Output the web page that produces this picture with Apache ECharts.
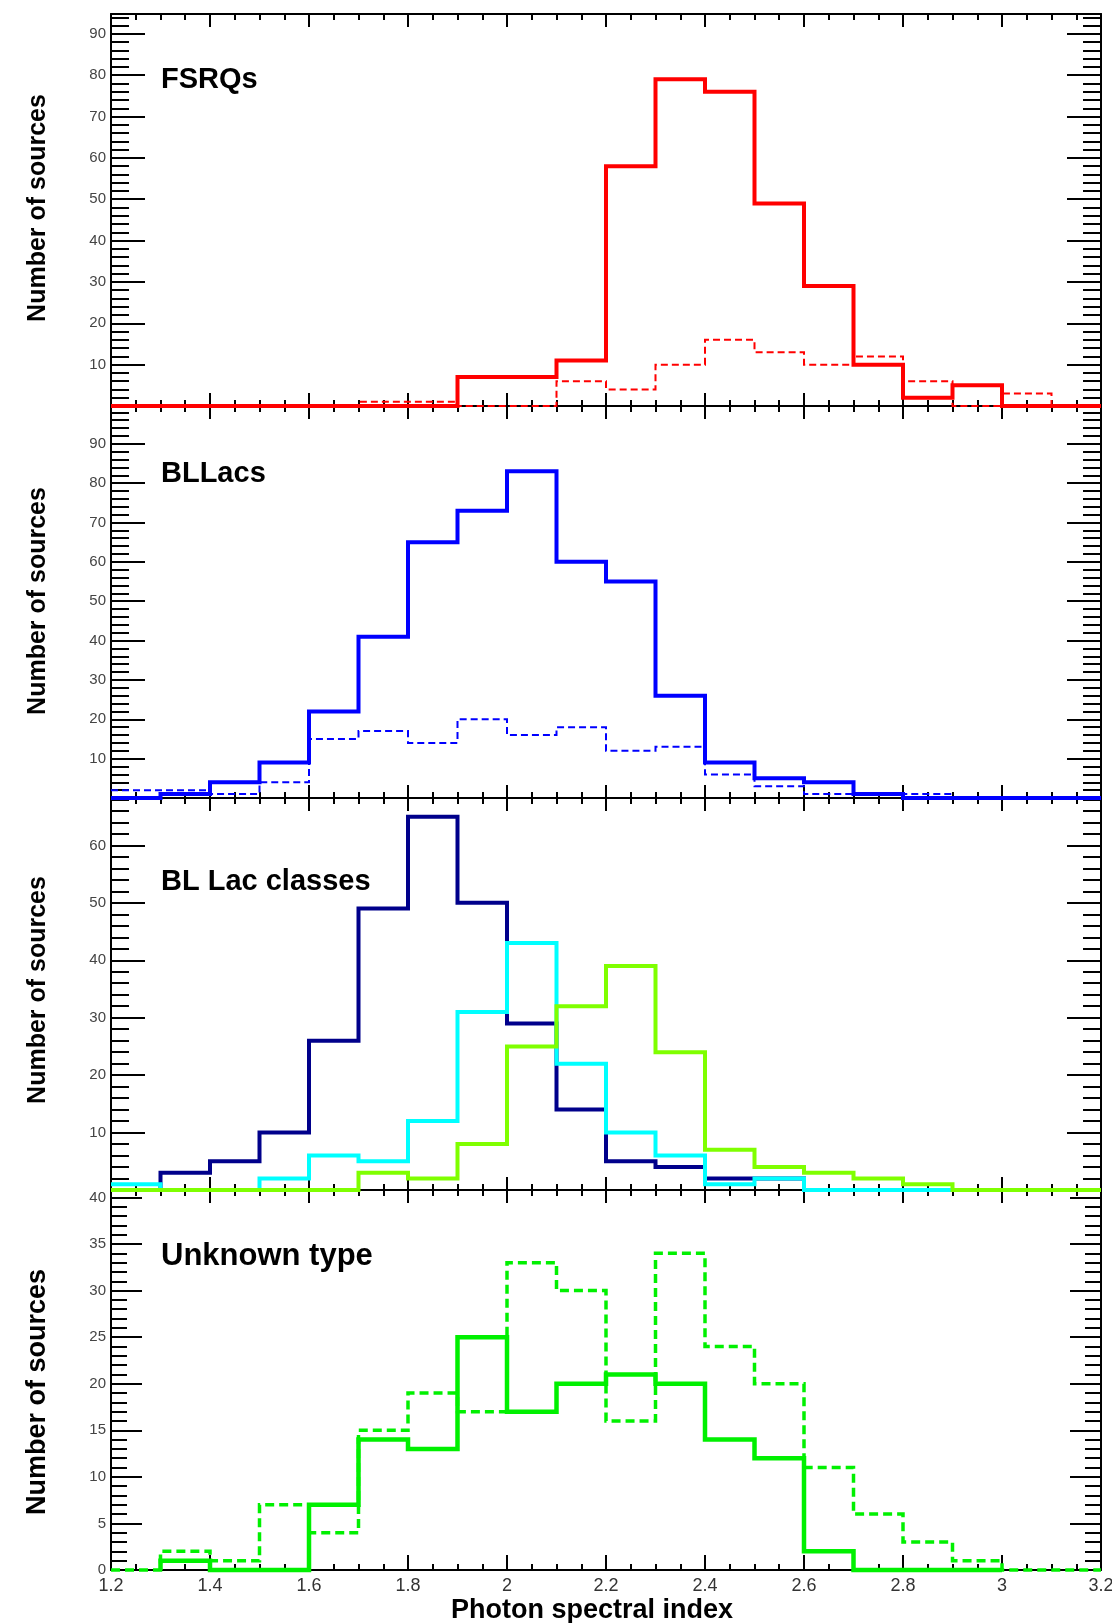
<!DOCTYPE html>
<html>
<head>
<meta charset="utf-8">
<script src="https://cdn.jsdelivr.net/npm/echarts@6/dist/echarts.min.js"></script>
<style>
html,body{margin:0;padding:0;background:#fff;}
#c{width:1112px;height:1623px;}
</style>
</head>
<body>
<div id="c"></div>
<script>
// ---------------- DATA ----------------
const binEdges = [1.2,1.3,1.4,1.5,1.6,1.7,1.8,1.9,2.0,2.1,2.2,2.3,2.4,2.5,2.6,2.7,2.8,2.9,3.0,3.1,3.2];
const xTickLabels = ['1.2','1.4','1.6','1.8','2','2.2','2.4','2.6','2.8','3','3.2'];

// Panel 1: FSRQs
const fsrqSolid  = [0,0,0,0,0,0,0,7,7,11,58,79,76,49,29,10,2,5,0,0];
const fsrqDashed = [0,0,0,0,0,1,1,0,0,6,4,10,16,13,10,12,6,0,3,0];

// Panel 2: BLLacs
const bllacSolid  = [0,1,4,9,22,41,65,73,83,60,55,26,9,5,4,1,0,0,0,0];
const bllacDashed = [2,2,1,4,15,17,14,20,16,18,12,13,6,3,1,1,1,0,0,0];

// Panel 3: BL Lac classes
const blLacNavy  = [0,3,5,10,26,49,65,50,29,14,5,4,2,2,0,0,0,0,0,0];
const blLacCyan  = [1,0,0,2,6,5,12,31,43,22,10,6,1,2,0,0,0,0,0,0];
const blLacGreen = [0,0,0,0,0,3,2,8,25,32,39,24,7,4,3,2,1,0,0,0];

// Panel 4: Unknown type
const unknownSolid  = [null,1,0,0,7,14,13,25,17,20,21,20,14,12,2,0,0,0,null,null];
const unknownDashed = [0,2,1,7,4,15,19,17,33,30,16,34,24,20,11,6,3,1,0,0];

const panelLabels = ['FSRQs','BLLacs','BL Lac classes','Unknown type'];
const yTitle = 'Number of sources';
const xTitle = 'Photon spectral index';

// ---------------- LAYOUT ----------------
const FONT = '"Liberation Sans", Arial, Helvetica, sans-serif';
const panels = [
  {top:14,   height:392, ymax:94.8,  major:10, minor:2, tickL:34, tickS:18, labelY:80,   titleY:208,  labelSize:29, titleSize:25},
  {top:406,  height:392, ymax:99.6,  major:10, minor:2, tickL:34, tickS:18, labelY:474,  titleY:601,  labelSize:29, titleSize:25},
  {top:798,  height:392, ymax:68.25, major:10, minor:2, tickL:34, tickS:18, labelY:882,  titleY:990,  labelSize:29, titleSize:25},
  {top:1190, height:380, ymax:40.8,  major:5,  minor:1, tickL:31, tickS:16, labelY:1256, titleY:1392, labelSize:31, titleSize:27}
];

function steps(vals){
  const pts = [];
  let open = false;
  for (let i = 0; i < vals.length; i++) {
    const v = vals[i];
    if (v == null) {
      if (open) { pts.push([binEdges[i], 0]); open = false; }
      continue;
    }
    if (!open && i > 0) pts.push([binEdges[i], 0]);
    pts.push([binEdges[i], v], [binEdges[i+1], v]);
    open = true;
  }
  return pts;
}

const grids = [], xAxes = [], yAxes = [], series = [], graphics = [];
const blk = {color:'#000', width:2};

panels.forEach((p, i) => {
  grids.push({left:111, width:990, top:p.top, height:p.height, show:false, containLabel:false, outerBoundsMode:'none'});
  ['bottom','top'].forEach(pos => {
    const isLabelAxis = (i === 3 && pos === 'bottom');
    xAxes.push({
      type:'value', gridIndex:i, position:pos, min:1.2, max:3.2, interval:0.2,
      axisLine:{show:true, onZero:false, lineStyle:blk},
      axisTick:{show:true, inside:true, length:(i===3 && pos==='bottom') ? 15 : 13, lineStyle:blk},
      minorTick:{show:true, splitNumber:4, length:6, lineStyle:blk},
      splitLine:{show:false}, minorSplitLine:{show:false},
      axisLabel:{
        show:isLabelAxis, margin:7, color:'#333', fontSize:18, fontFamily:FONT,
        formatter: v => { const s = String(Math.round(v*10)/10); return xTickLabels.includes(s) ? s : ''; }
      }
    });
  });
  ['left','right'].forEach(pos => {
    yAxes.push({
      type:'value', gridIndex:i, position:pos, min:0, max:p.ymax, interval:p.major,
      axisLine:{show:true, onZero:false, lineStyle:blk},
      axisTick:{show:true, inside:true, length:p.tickL, lineStyle:blk},
      splitLine:{show:false},
      axisLabel:{
        show: pos === 'left', margin:5, color:'#444', fontSize:15, fontFamily:FONT,
        formatter: v => {
          if (Math.abs(v % p.major) > 1e-6) return '';
          if (i < 3 && v === 0) return '';
          return String(v);
        }
      }
    });
    yAxes.push({
      type:'value', gridIndex:i, position:pos, min:0, max:p.ymax, interval:p.minor,
      axisLine:{show:false, onZero:false},
      axisTick:{show:true, inside:true, length:p.tickS, lineStyle:blk},
      splitLine:{show:false},
      axisLabel:{show:false}
    });
  });
  graphics.push({
    type:'text', x:161, y:p.labelY, z:100,
    style:{text:panelLabels[i], font:`bold ${p.labelSize}px ${FONT}`, fill:'#000', align:'left', verticalAlign:'middle'}
  });
  graphics.push({
    type:'text', x:38, y:p.titleY, rotation:Math.PI/2, z:100,
    style:{text:yTitle, font:`bold ${p.titleSize}px ${FONT}`, fill:'#000', align:'center', verticalAlign:'middle'}
  });
});

graphics.push({
  type:'text', x:451, y:1611, z:100,
  style:{text:xTitle, font:`bold 27px ${FONT}`, fill:'#000', align:'left', verticalAlign:'middle'}
});

function addSeries(name, vals, gi, color, width, dash){
  series.push({
    name, type:'line', xAxisIndex:gi*2, yAxisIndex:gi*4,
    data: steps(vals), showSymbol:false, symbol:'none', clip:false, animation:false,
    lineStyle:{color, width, type: dash || 'solid', cap:'butt', join:'miter'},
    emphasis:{disabled:true}
  });
}

addSeries('FSRQs (dashed)', fsrqDashed, 0, '#ff0000', 2, [7,4]);
addSeries('FSRQs', fsrqSolid, 0, '#ff0000', 4);
addSeries('BLLacs (dashed)', bllacDashed, 1, '#0000ff', 2, [7,4]);
addSeries('BLLacs', bllacSolid, 1, '#0000ff', 4);
addSeries('BL Lac class 1', blLacNavy, 2, '#00008b', 4);
addSeries('BL Lac class 2', blLacCyan, 2, '#00ffff', 4);
addSeries('BL Lac class 3', blLacGreen, 2, '#7fff00', 4);
addSeries('Unknown (dashed)', unknownDashed, 3, '#00f000', 3.5, [9,5]);
addSeries('Unknown', unknownSolid, 3, '#00f000', 4.5);

const chart = echarts.init(document.getElementById('c'), null, {renderer:'canvas'});
chart.setOption({
  animation:false,
  backgroundColor:'#fff',
  grid:grids, xAxis:xAxes, yAxis:yAxes, series, graphic:graphics,
  tooltip:{show:false}, legend:{show:false}
});
</script>
</body>
</html>
